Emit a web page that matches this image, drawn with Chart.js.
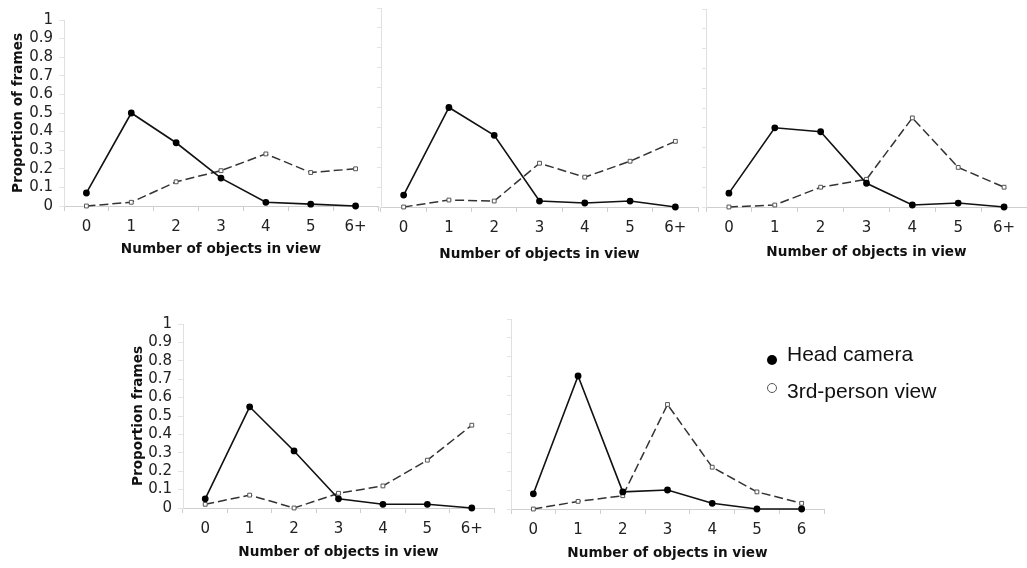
<!DOCTYPE html>
<html>
<head>
<meta charset="utf-8">
<script src="https://cdn.jsdelivr.net/npm/chart.js@4"></script>
<style>
  html, body { margin: 0; padding: 0; background: #fff; overflow: hidden; }
  body { width: 1027px; height: 568px; position: relative; }
  canvas { position: absolute; }
  .leg { position: absolute; font-family: "Liberation Sans", Arial, sans-serif; font-size: 21px; color: #111; white-space: nowrap; }
  .dot { position: absolute; border-radius: 50%; }
</style>
</head>
<body>
<canvas id="c1"></canvas>
<canvas id="c2"></canvas>
<canvas id="c3"></canvas>
<canvas id="c4"></canvas>
<canvas id="c5"></canvas>

<div class="dot" style="left:767px; top:355px; width:10px; height:10px; background:#000;"></div>
<div class="leg" style="left:787px; top:342px;">Head camera</div>
<div class="dot" style="left:767px; top:383px; width:8px; height:8px; border:1px solid #555; background:#fff;"></div>
<div class="leg" style="left:787px; top:379px;">3rd-person view</div>

<script>
// categories
const objCats = ["0", "1", "2", "3", "4", "5", "6+"];
const objCatsLast = ["0", "1", "2", "3", "4", "5", "6"];

// series values (proportion of frames)
const p1Head  = [0.07, 0.50, 0.34, 0.15, 0.02, 0.01, 0];
const p1Third = [0, 0.02, 0.13, 0.19, 0.28, 0.18, 0.20];
const p2Head  = [0.06, 0.50, 0.36, 0.03, 0.02, 0.03, 0];
const p2Third = [0, 0.035, 0.03, 0.22, 0.15, 0.23, 0.33];
const p3Head  = [0.07, 0.40, 0.38, 0.12, 0.01, 0.02, 0];
const p3Third = [0, 0.01, 0.10, 0.14, 0.45, 0.20, 0.10];
const p4Head  = [0.05, 0.55, 0.31, 0.05, 0.02, 0.02, 0];
const p4Third = [0.02, 0.07, 0, 0.08, 0.12, 0.26, 0.45];
const p5Head  = [0.08, 0.70, 0.09, 0.10, 0.03, 0, 0];
const p5Third = [0, 0.04, 0.07, 0.55, 0.22, 0.09, 0.03];

// axis texts
const xTitle = "Number of objects in view";
const yTitle1 = "Proportion of frames";
const yTitle2 = "Proportion frames";

const tickFont = { family: "DejaVu Sans, Verdana, sans-serif", size: 15 };
const titleFont = { family: "DejaVu Sans, Verdana, sans-serif", size: 13.6, weight: "bold" };
const axisGray = "#cfcfcf";

function makePanel(id, labels, head, third, box) {
  const cv = document.getElementById(id);
  cv.width = box.w; cv.height = box.h;
  cv.style.left = box.x + "px";
  cv.style.top = box.y + "px";
  const showY = !!box.yTitle;

  new Chart(cv, {
    type: "line",
    data: {
      labels: labels,
      datasets: [
        {
          label: "Head camera",
          data: head,
          borderColor: "#111",
          borderWidth: 1.6,
          pointStyle: "circle",
          pointRadius: 2.6,
          pointBackgroundColor: "#000",
          pointBorderColor: "#000",
          tension: 0,
          clip: false
        },
        {
          label: "3rd-person view",
          data: third,
          borderColor: "#333",
          borderWidth: 1.5,
          borderDash: [9, 4],
          pointStyle: "rect",
          pointRadius: 2.7,
          pointBackgroundColor: "#fff",
          pointBorderColor: "#555",
          pointBorderWidth: 1,
          tension: 0,
          clip: false
        }
      ]
    },
    options: {
      responsive: false,
      animation: false,
      devicePixelRatio: 1,
      layout: { padding: { top: 10, right: 10, left: 0, bottom: 0 } },
      plugins: { legend: { display: false }, tooltip: { enabled: false } },
      scales: {
        x: {
          type: "category",
          offset: true,
          grid: { offset: true, drawOnChartArea: false, drawTicks: true, tickLength: 5, color: axisGray },
          border: { color: axisGray },
          ticks: { font: tickFont, color: "#222", padding: 7, maxRotation: 0 },
          title: { display: true, text: xTitle, font: titleFont, color: "#111", padding: { top: 0, bottom: 4 } },
          afterFit: s => { s.height = box.xh; }
        },
        y: {
          min: 0,
          max: 1,
          ticks: {
            stepSize: 0.1,
            autoSkip: false,
            display: showY,
            font: tickFont,
            color: "#222",
            padding: 6,
            callback: v => String(Math.round(v * 10) / 10)
          },
          grid: { drawOnChartArea: false, drawTicks: true, tickLength: showY ? 5 : 4, color: "#e4e4e4" },
          border: { color: "#e0e0e0" },
          title: { display: showY, text: box.yTitle || "", font: titleFont, color: "#111", padding: { top: 10, bottom: 0 } },
          afterFit: s => { s.width = box.yw; }
        }
      }
    }
  });
}

makePanel("c1", objCats, p1Head, p1Third, { x: 0, y: 5, w: 388, h: 257, yw: 64, xh: 56, yTitle: yTitle1 });
makePanel("c2", objCats, p2Head, p2Third, { x: 375, y: -2, w: 333, h: 269, yw: 6, xh: 60 });
makePanel("c3", objCats, p3Head, p3Third, { x: 700, y: -1, w: 337, h: 266, yw: 6, xh: 58 });
makePanel("c4", objCats, p4Head, p4Third, { x: 120, y: 309, w: 384, h: 256, yw: 63, xh: 57, yTitle: yTitle2 });
makePanel("c5", objCatsLast, p5Head, p5Third, { x: 505, y: 309, w: 329, h: 257, yw: 6, xh: 57 });
</script>
</body>
</html>
